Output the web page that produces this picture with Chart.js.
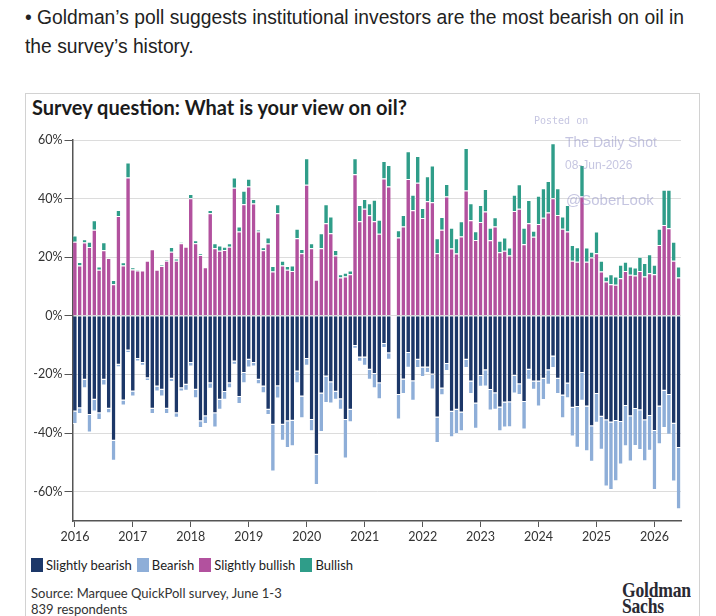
<!DOCTYPE html>
<html>
<head>
<meta charset="utf-8">
<script src="https://cdn.jsdelivr.net/npm/chart.js@4.4.1/dist/chart.umd.min.js"></script>
<style>
  html, body { margin: 0; padding: 0; background: #fff; }
  body { width: 716px; height: 616px; position: relative; overflow: hidden; }
  .lead { position: absolute; left: 25px; top: 3px; margin: 0; font: 19.3px "Liberation Sans", Arial, sans-serif; line-height: 29px; color: #222; white-space: nowrap; }
  .box { position: absolute; left: 25px; top: 93px; width: 675px; height: 560px; border: 1px solid #d2d2d2; box-sizing: border-box; }
  .title { position: absolute; left: 32px; top: 95px; font: bold 20px Lato, sans-serif; color: #1b1b1b; }
  .wrap { position: absolute; left: 25px; top: 125px; width: 665px; height: 421px; }
  .legend { position: absolute; left: 31px; top: 557px; font: 13px Lato, sans-serif; color: #222; display: flex; align-items: center; }
  .legend span.sw { display: inline-block; width: 12px; height: 14px; margin-right: 3px; }
  .legend span.it { margin-right: 5px; }
  .source { position: absolute; left: 31px; top: 585px; font: 13px Lato, sans-serif; color: #333; line-height: 16px; }
  .gs { position: absolute; left: 622px; top: 582px; font: bold 22px "Liberation Serif", serif; color: #2a2a33; line-height: 16px; transform: scaleX(0.8); transform-origin: left top; letter-spacing: -0.3px; }
  .wm { position: absolute; color: rgba(150, 150, 200, 0.55); pointer-events: none; white-space: nowrap; }
</style>
</head>
<body>
<p class="lead">&bull; Goldman’s poll suggests institutional investors are the most bearish on oil in<br>the survey’s history.</p>
<div class="box"></div>
<div class="title">Survey question: What is your view on oil?</div>
<div class="wrap"><canvas id="chart"></canvas></div>
<div class="legend" id="legend"></div>
<div class="source">Source: Marquee QuickPoll survey, June 1-3<br>839 respondents</div>
<div class="gs">Goldman<br>Sachs</div>
<div class="wm" style="left:534px;top:115px;font:10px 'DejaVu Sans Mono',monospace;">Posted on</div>
<div class="wm" style="left:565px;top:134px;font:14px 'Liberation Sans',Arial,sans-serif;">The Daily Shot</div>
<div class="wm" style="left:565px;top:158px;font:12px 'Liberation Sans',Arial,sans-serif;">08-Jun-2026</div>
<div class="wm" style="left:566px;top:191px;font:15px 'Liberation Sans',Arial,sans-serif;">@SoberLook</div>
<script>
// Goldman Sachs QuickPoll: view on oil, monthly Jan 2016 - Jun 2026 (Jul 2021 missing)

const years = [2016, 2017, 2018, 2019, 2020, 2021, 2022, 2023, 2024, 2025, 2026];
const lastMonth = 6; // survey runs to June 2026

// share of respondents, % (bearish shares are drawn below zero)
const slightlyBullish = [
  25.3, 17.2, 25.0, 23.5, 29.4, 15.7, 22.4, 19.7, 10.8, 34.1, 17.2, 47.2,
  15.8, 15.5, 15.5, 18.8, 22.7, 15.7, 17.0, 18.8, 21.9, 18.8, 24.8, 23.6,
  40.1, 24.8, 20.8, 16.6, 35.0, 23.1, 22.2, 22.5, 23.6, 43.7, 28.8, 38.1,
  44.1, 38.3, 28.8, 22.4, 24.7, 15.1, 35.0, 17.2, 15.7, 15.3, 26.5, 21.4,
  44.7, 23.1, 12.3, 23.1, 31.6, 28.2, 20.6, 13.1, 13.4, 14.2, 48.3, 32.3,
  36.5, 34.3, 32.3, 28.0, 46.9, 44.1, null, 26.7, 30.5, 46.7, 36.0, 45.4,
  33.4, 39.1, 38.8, 21.4, 29.4, 40.7, 23.0, 21.3, 27.1, 42.8, 32.6, 25.9,
  32.0, 35.6, 25.8, 30.5, 21.7, 22.2, 20.6, 35.8, 36.5, 24.4, 31.6, 27.0,
  31.3, 33.5, 35.3, 40.1, 34.4, 29.7, 28.8, 18.8, 18.5, 40.7, 18.5, 19.9,
  21.4, 15.1, 11.7, 10.8, 10.6, 12.8, 15.3, 14.0, 13.8, 15.3, 13.4, 14.5,
  14.2, 24.2, 31.0, 29.9, 18.8, 13.1
];
const bullish = [
  2.1, 1.2, 1.1, 1.8, 3.2, 1.1, 2.7, 0, 1.4, 2.0, 1.1, 5.1,
  0.8, 0.3, 0, 0, 0, 0, 0.4, 0.3, 1.6, 0.8, 0.3, 0,
  1.5, 1.0, 0.4, 0, 1.1, 1.7, 1.8, 1.1, 1.2, 3.5, 1.7, 4.6,
  2.7, 1.6, 0.6, 1.0, 2.0, 1.9, 3.1, 1.6, 1.3, 1.9, 3.2, 1.4,
  9.1, 1.7, 0, 5.1, 6.5, 5.7, 1.9, 1.1, 1.3, 1.3, 5.5, 5.5,
  3.4, 4.1, 7.3, 4.8, 5.9, 7.4, null, 2.5, 3.9, 9.5, 5.3, 9.1,
  3.4, 8.5, 12.5, 5.1, 4.3, 4.3, 7.1, 5.2, 5.2, 14.5, 5.8, 3.0,
  5.8, 7.7, 4.3, 3.1, 3.9, 4.5, 2.7, 5.5, 8.4, 5.7, 7.9, 2.0,
  9.7, 10.0, 10.7, 18.8, 9.1, 4.2, 9.0, 5.4, 4.9, 10.8, 4.8, 2.0,
  7.4, 3.7, 1.7, 3.4, 2.8, 4.6, 3.2, 2.8, 2.7, 4.9, 4.6, 6.5,
  3.2, 5.5, 12.0, 13.1, 6.5, 3.7
];
const slightlyBearish = [
  32.6, 31.5, 21.8, 33.8, 28.6, 33.2, 21.8, 31.7, 42.6, 16.7, 28.9, 11.8,
  25.8, 14.7, 16.1, 21.3, 31.7, 24.1, 25.2, 31.7, 21.5, 33.2, 24.7, 23.5,
  16.1, 25.2, 36.0, 34.3, 23.0, 33.2, 28.6, 26.0, 23.0, 15.6, 27.7, 19.5,
  15.0, 16.1, 21.8, 24.1, 32.0, 37.2, 24.0, 37.2, 36.0, 35.8, 19.0, 27.5,
  14.7, 35.5, 47.4, 26.5, 20.7, 22.7, 25.9, 28.5, 35.5, 32.0, 10.3, 14.2,
  14.2, 18.4, 19.8, 23.0, 9.6, 12.8, null, 27.0, 21.7, 12.7, 22.3, 15.0,
  17.6, 17.6, 20.0, 34.7, 24.8, 16.4, 32.7, 32.0, 33.0, 15.0, 22.4, 29.9,
  20.5, 18.6, 25.3, 26.4, 31.3, 29.6, 29.5, 20.4, 23.3, 29.4, 18.4, 22.4,
  22.4, 21.5, 18.6, 13.9, 21.5, 27.2, 23.1, 31.4, 31.1, 19.5, 30.9, 37.7,
  26.7, 34.4, 35.6, 36.4, 35.9, 36.2, 30.8, 34.3, 31.8, 32.2, 35.6, 34.2,
  39.3, 30.9, 25.6, 27.0, 36.8, 45.1
];
const bearish = [
  4.3, 2.0, 2.9, 6.0, 4.0, 2.3, 2.0, 1.5, 6.8, 0.8, 1.7, 0.9,
  1.7, 0.9, 0.9, 0.9, 1.8, 1.7, 2.3, 1.8, 1.1, 1.6, 1.1, 2.1,
  1.2, 2.9, 2.3, 2.6, 1.9, 4.9, 3.4, 2.6, 1.7, 1.1, 2.4, 3.5,
  2.6, 1.2, 1.5, 2.3, 1.8, 15.9, 4.2, 5.4, 9.1, 8.7, 4.0, 7.4,
  2.3, 3.9, 10.3, 13.1, 9.0, 7.2, 2.7, 3.5, 13.2, 4.3, 0.9, 1.5,
  2.8, 3.4, 4.9, 5.5, 1.4, 2.2, null, 8.4, 5.0, 5.0, 6.7, 2.8,
  3.3, 1.9, 5.1, 8.7, 2.3, 2.4, 8.7, 8.4, 6.4, 2.8, 4.3, 8.6,
  3.7, 5.5, 7.0, 5.6, 8.1, 8.5, 8.5, 6.1, 3.7, 9.4, 3.4, 2.8,
  8.5, 7.2, 4.9, 3.9, 5.2, 7.7, 5.0, 9.8, 13.9, 9.5, 15.3, 12.1,
  9.8, 11.3, 22.6, 23.0, 20.5, 14.5, 13.7, 15.4, 12.6, 13.6, 14.0, 11.8,
  20.1, 12.9, 12.7, 13.6, 19.7, 20.9
];

const yTicks = [-60, -40, -20, 0, 20, 40, 60];

const COLORS = {
  slightlyBearish: "#1c3768",
  bearish: "#8eaed8",
  slightlyBullish: "#b2519e",
  bullish: "#2f9d89"
};

// month labels "YYYY-MM"
const labels = [];
for (const y of years) {
  for (let m = 1; m <= 12; m++) {
    if (y === years[years.length - 1] && m > lastMonth) break;
    labels.push(y + "-" + String(m).padStart(2, "0"));
  }
}

const neg = (arr) => arr.map((v) => v == null ? null : -v);

function series(label, data, color) {
  return {
    label, data,
    backgroundColor: color,
    borderColor: "#fff",
    borderWidth: { top: 1, bottom: 1, left: 0, right: 0 },
    borderSkipped: "start",
    categoryPercentage: 1,
    barPercentage: 0.76
  };
}

const datasets = [
  series("Slightly bearish", neg(slightlyBearish), COLORS.slightlyBearish),
  series("Bearish", neg(bearish), COLORS.bearish),
  series("Slightly bullish", slightlyBullish, COLORS.slightlyBullish),
  series("Bullish", bullish, COLORS.bullish)
];

const tickFont = { family: "Lato", size: 12.5 };

new Chart(document.getElementById("chart"), {
  type: "bar",
  data: { labels, datasets },
  options: {
    responsive: true,
    maintainAspectRatio: false,
    animation: false,
    layout: { padding: { top: 15, right: 9, bottom: 0, left: 0 } },
    plugins: { legend: { display: false }, tooltip: { enabled: false } },
    scales: {
      x: {
        stacked: true,
        grid: { offset: false, drawOnChartArea: false, color: "#555", tickLength: 6 },
        border: { color: "#555", width: 1.5 },
        ticks: {
          autoSkip: false, maxRotation: 0, padding: 2, color: "#333", font: tickFont,
          callback: (v) => labels[v].slice(0, 4)
        },
        afterBuildTicks: (s) => { s.ticks = s.ticks.filter((t) => labels[t.value].endsWith("-01")); },
        afterFit: (s) => { s.height = 25; }
      },
      y: {
        stacked: true,
        min: -70,
        max: 60,
        ticks: { stepSize: 20, padding: 2, color: "#333", font: tickFont, callback: (v) => v + "%" },
        grid: { color: "#dcdcdc", tickColor: "#555", tickLength: 8 },
        border: { color: "#555", width: 1.5 },
        afterBuildTicks: (s) => { s.ticks = yTicks.map((v) => ({ value: v })); },
        afterFit: (s) => { s.width = 47.5; }
      }
    }
  }
});

// legend in the Goldman style: square swatch + label
const legend = document.getElementById("legend");
for (const ds of datasets) {
  legend.insertAdjacentHTML("beforeend",
    `<span class="sw" style="background:${ds.backgroundColor}"></span><span class="it">${ds.label}</span>`);
}
</script>
</body>
</html>
